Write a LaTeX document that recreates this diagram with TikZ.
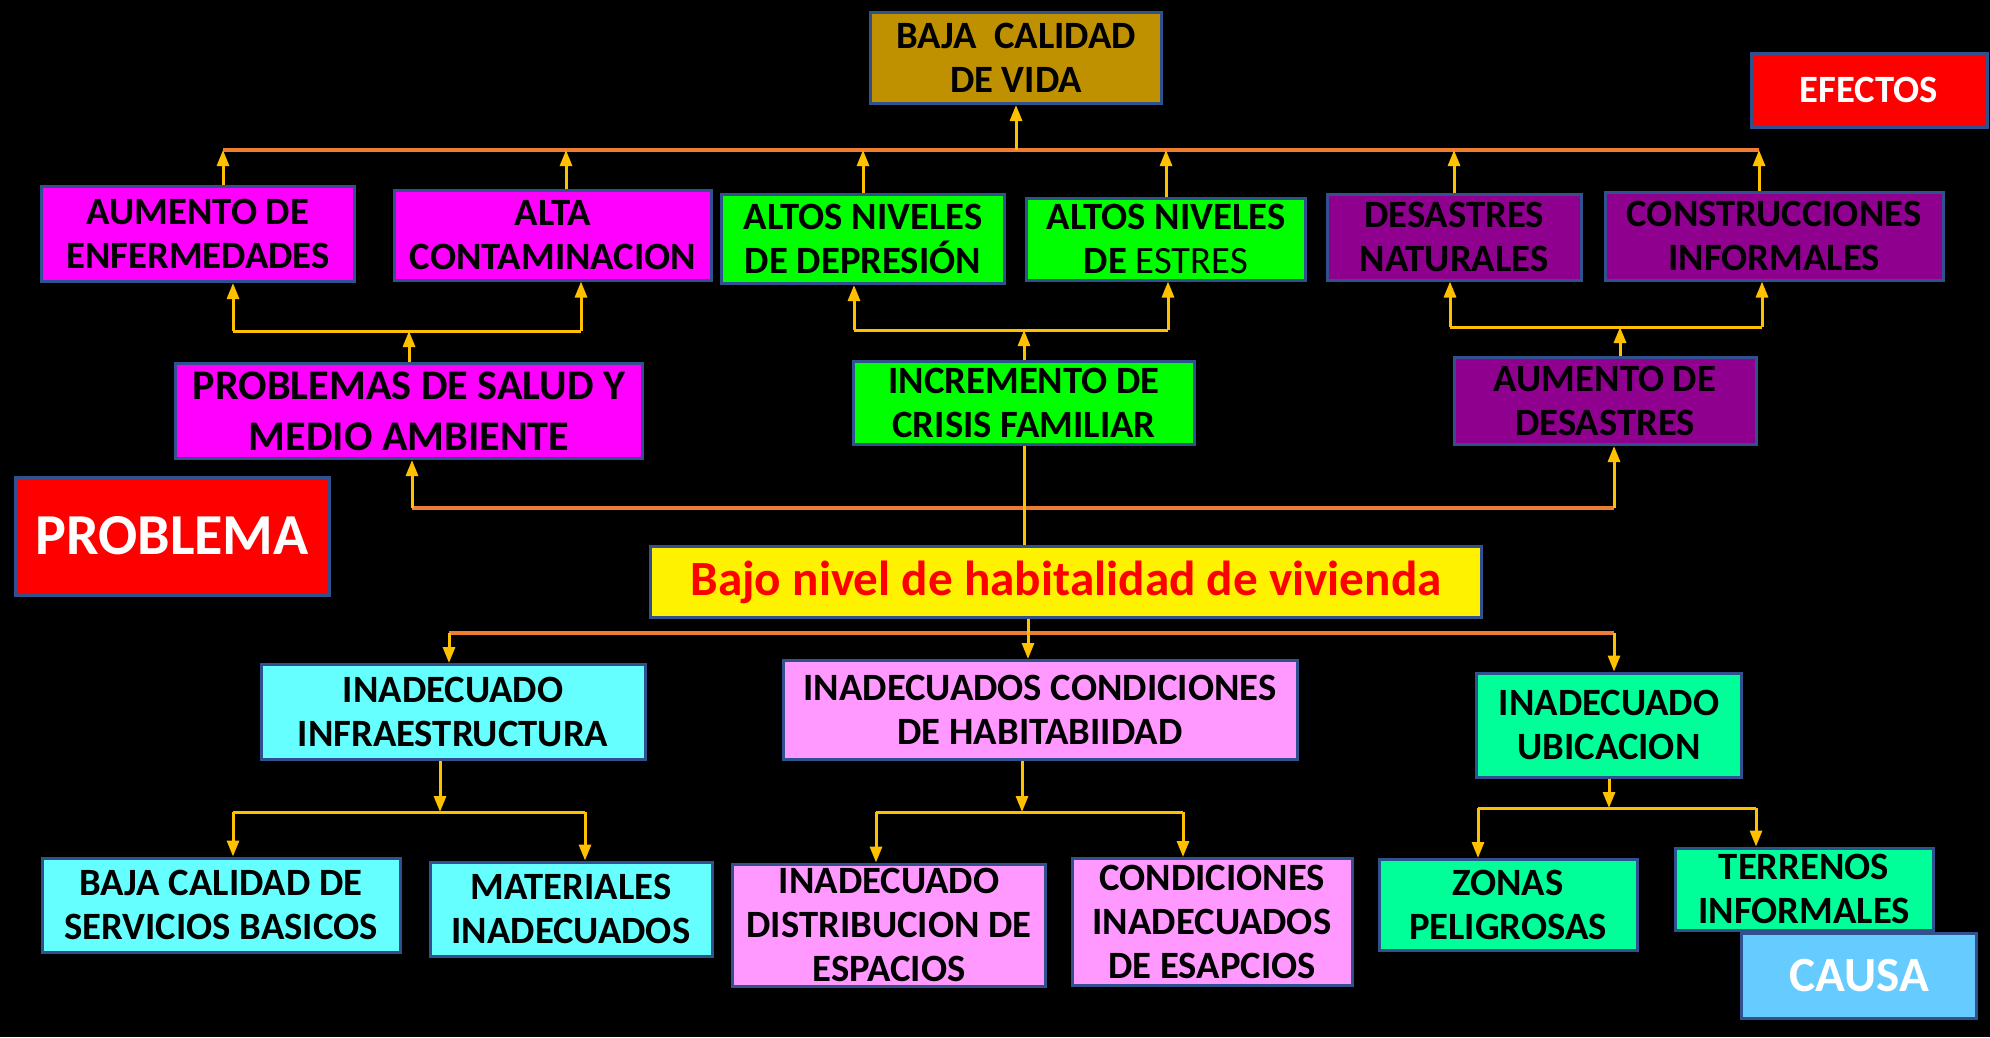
\documentclass[tikz,border=0pt]{standalone}
\usepackage{fontspec}
\setmainfont{Carlito}
\usetikzlibrary{arrows.meta,positioning,calc}
\definecolor{edge}{HTML}{2F528F}
\definecolor{gold}{HTML}{BF9000}
\definecolor{mag}{HTML}{FF00FF}
\definecolor{lime}{HTML}{00FF00}
\definecolor{plum}{HTML}{8F008F}
\definecolor{aqua}{HTML}{66FFFF}
\definecolor{rose}{HTML}{FF99FF}
\definecolor{jade}{HTML}{00FF99}
\definecolor{sky}{HTML}{66CCFF}
\definecolor{ochre}{HTML}{ED7D31}
\definecolor{amber}{HTML}{FFC000}

\begin{document}
\begin{tikzpicture}[x=0.1mm,y=-0.1mm,
 box/.style={draw=edge,line width=0.3mm,align=center,inner sep=0pt,
 font=\fontsize{11}{12.6}\selectfont\bfseries},
 tag/.style={box,text=white},
 busline/.style={draw=ochre,line width=0.4mm},
 lnk/.style={draw=amber,line width=0.3mm},
 arr/.style={lnk,-{Triangle[length=1.6mm,width=1.2mm]}}]
 \fill[black] (0,0) rectangle (1990,1037);
 \useasboundingbox (0,0) rectangle (1990,1037);
 % efectos
 \node[box,fill=gold,minimum width=29.1mm,minimum height=9.1mm] (vida) at (1016,58) {BAJA\ \ CALIDAD\\DE VIDA};
 \node[tag,fill=red,minimum width=23.6mm,minimum height=7.4mm] (efectos) at (1869,90) {EFECTOS};
 \node[box,fill=mag,minimum width=31.3mm,minimum height=9.5mm] (enf) at (198,234) {AUMENTO DE\\ENFERMEDADES};
 \node[box,fill=mag,minimum width=31.7mm,minimum height=9mm] (contam) at (553,235) {ALTA\\CONTAMINACION};
 \node[box,fill=lime,minimum width=28.3mm,minimum height=8.9mm] (depre) at (863,239) {ALTOS NIVELES\\DE DEPRESIÓN};
 \node[box,fill=lime,minimum width=27.9mm,minimum height=8.2mm] (estres) at (1166,239) {ALTOS NIVELES\\DE \mdseries ESTRES};
 \node[box,fill=plum,minimum width=25.4mm,minimum height=8.6mm] (desnat) at (1454,237) {DESASTRES\\NATURALES};
 \node[box,fill=plum,minimum width=33.8mm,minimum height=8.8mm] (constr) at (1774,236) {CONSTRUCCIONES\\INFORMALES};
 \node[box,fill=mag,minimum width=46.7mm,minimum height=9.5mm,
 font=\fontsize{12}{14.4}\selectfont\bfseries] (salud) at (409,411) {PROBLEMAS DE SALUD Y\\MEDIO AMBIENTE};
 \node[box,fill=lime,minimum width=34.1mm,minimum height=8.3mm] (crisis) at (1024,403) {INCREMENTO DE\\CRISIS FAMILIAR};
 \node[box,fill=plum,minimum width=30.2mm,minimum height=8.7mm] (aumdes) at (1605,401) {AUMENTO DE\\DESASTRES};
 % problema
 \node[tag,fill=red,minimum width=31.4mm,minimum height=11.8mm,
 font=\fontsize{16.5}{20}\selectfont\bfseries] (problema) at (172,536) {PROBLEMA};
 \node[box,fill=yellow,text=red,minimum width=83.1mm,minimum height=7.1mm,
 font=\fontsize{14}{16}\selectfont\bfseries] (bajo) at (1066,582) {Bajo nivel de habitalidad de vivienda};
 % causas
 \node[box,fill=aqua,minimum width=38.4mm,minimum height=9.5mm] (infra) at (453,712) {INADECUADO\\INFRAESTRUCTURA};
 \node[box,fill=rose,minimum width=51.4mm,minimum height=9.9mm] (habit) at (1040,710) {INADECUADOS CONDICIONES\\DE HABITABIIDAD};
 \node[box,fill=jade,minimum width=26.5mm,minimum height=10.4mm] (ubic) at (1609,725) {INADECUADO\\UBICACION};
 \node[box,fill=aqua,minimum width=35.8mm,minimum height=9.4mm] (servic) at (221,905) {BAJA CALIDAD DE\\SERVICIOS BASICOS};
 \node[box,fill=aqua,minimum width=28.2mm,minimum height=9.4mm] (mater) at (571,909) {MATERIALES\\INADECUADOS};
 \node[box,fill=rose,minimum width=31.3mm,minimum height=12.2mm] (distrib) at (889,925) {INADECUADO\\DISTRIBUCION DE\\ESPACIOS};
 \node[box,fill=rose,minimum width=28mm,minimum height=12.7mm] (condic) at (1212,922) {CONDICIONES\\INADECUADOS\\DE ESAPCIOS};
 \node[box,fill=jade,minimum width=25.8mm,minimum height=9.1mm] (zonas) at (1508,905) {ZONAS\\PELIGROSAS};
 \node[box,fill=jade,minimum width=25.8mm,minimum height=8.2mm] (terren) at (1804,889) {TERRENOS\\INFORMALES};
 \node[tag,fill=sky,minimum width=23.5mm,minimum height=8.5mm,
 font=\fontsize{14}{16}\selectfont\bfseries] (causa) at (1859,976) {CAUSA};
 % top bus
 \coordinate (tl) at (223,150);
 \coordinate (tc) at (566,150);
 \coordinate (tr) at (1759,150);
 \draw[busline] (tl) -- (tr);
 \draw[arr] (vida.south |- tl) -- (vida.south);
 \draw[arr] (enf.north -| tl) -- (tl);
 \draw[arr] (contam.north -| tc) -- (tc);
 \draw[arr] (depre.north) -- (depre.north |- tl);
 \draw[arr] (estres.north) -- (estres.north |- tl);
 \draw[arr] (desnat.north) -- (desnat.north |- tl);
 \draw[arr] (constr.north -| tr) -- (tr);
 % salud
 \coordinate (sl) at (233,331);
 \coordinate (sr) at (581,331);
 \draw[lnk] (sl) -- (sr);
 \draw[arr] (sl) -- (enf.south -| sl);
 \draw[arr] (sr) -- (contam.south -| sr);
 \draw[arr] (salud.north) -- (salud.north |- sl);
 % crisis
 \coordinate (cl) at (854,330);
 \coordinate (cr) at (1168,330);
 \draw[lnk] (cl) -- (cr);
 \draw[arr] (cl) -- (depre.south -| cl);
 \draw[arr] (cr) -- (estres.south -| cr);
 \draw[arr] (crisis.north) -- (crisis.north |- cl);
 % desastres
 \coordinate (dl) at (1450,327);
 \coordinate (dr) at (1762,327);
 \coordinate (dj) at (1620,327);
 \draw[lnk] (dl) -- (dr);
 \draw[arr] (dl) -- (desnat.south -| dl);
 \draw[arr] (dr) -- (constr.south -| dr);
 \draw[arr] (aumdes.north -| dj) -- (dj);
 % middle bus
 \coordinate (ml) at (412,508);
 \coordinate (mr) at (1614,508);
 \draw[busline] (ml) -- (mr);
 \draw[arr] (ml) -- (salud.south -| ml);
 \draw[arr] (mr) -- (aumdes.south -| mr);
 \draw[lnk] (crisis.south) -- (bajo.north -| crisis.south);
 % lower bus
 \coordinate (bl) at (449,633);
 \coordinate (bm) at (1028,633);
 \coordinate (br) at (1614,633);
 \draw[busline] (bl) -- (br);
 \draw[arr] (bl) -- (infra.north -| bl);
 \draw[arr] (bajo.south -| bm) -- (habit.north -| bm);
 \draw[arr] (br) -- (ubic.north -| br);
 % infraestructura
 \coordinate (il) at (233,812);
 \coordinate (ij) at (440,812);
 \coordinate (ir) at (585,812);
 \draw[lnk] (il) -- (ir);
 \draw[arr] (infra.south -| ij) -- (ij);
 \draw[arr] (il) -- (servic.north -| il);
 \draw[arr] (ir) -- (mater.north -| ir);
 % habitabilidad
 \coordinate (hl) at (876,812);
 \coordinate (hj) at (1022,812);
 \coordinate (hr) at (1183,812);
 \draw[lnk] (hl) -- (hr);
 \draw[arr] (habit.south -| hj) -- (hj);
 \draw[arr] (hl) -- (distrib.north -| hl);
 \draw[arr] (hr) -- (condic.north -| hr);
 % ubicacion
 \coordinate (ul) at (1478,808);
 \coordinate (uj) at (1609,808);
 \coordinate (ur) at (1756,808);
 \draw[lnk] (ul) -- (ur);
 \draw[arr] (ubic.south -| uj) -- (uj);
 \draw[arr] (ul) -- (zonas.north -| ul);
 \draw[arr] (ur) -- (terren.north -| ur);
\end{tikzpicture}
\end{document}
